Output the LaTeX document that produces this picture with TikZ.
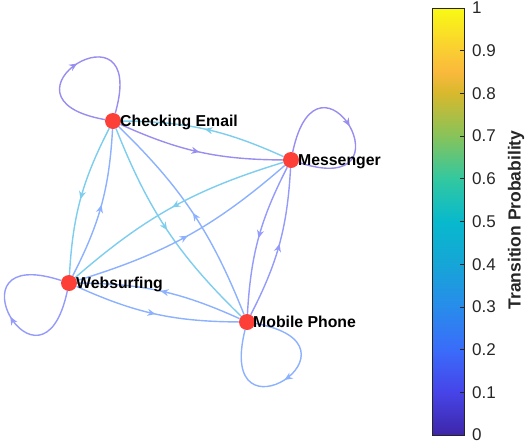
\documentclass[tikz,border=0pt]{standalone}
\usepackage{fontspec}
\setmainfont{Liberation Sans}
\usetikzlibrary{arrows.meta,decorations.markings}

\definecolor{purp}{RGB}{152,142,240}
\definecolor{pblu}{RGB}{148,155,250}
\definecolor{blu}{RGB}{140,177,255}
\definecolor{cya}{RGB}{125,205,238}
\definecolor{nodered}{RGB}{252,64,56}
\definecolor{axgray}{RGB}{38,38,38}
\definecolor{pa}{RGB}{62,38,168}
\definecolor{pb}{RGB}{70,68,232}
\definecolor{pc}{RGB}{58,108,250}
\definecolor{pd}{RGB}{40,140,235}
\definecolor{pe}{RGB}{22,165,215}
\definecolor{pf}{RGB}{8,185,205}
\definecolor{pg}{RGB}{50,200,160}
\definecolor{ph}{RGB}{135,195,90}
\definecolor{pi}{RGB}{215,185,45}
\definecolor{pj}{RGB}{250,185,60}
\definecolor{pk}{RGB}{250,205,50}
\definecolor{pl}{RGB}{249,250,20}
\pgfdeclareverticalshading{parula}{100bp}{color(0bp)=(pa); color(25bp)=(pa); color(30bp)=(pb); color(35bp)=(pc); color(40bp)=(pd); color(45bp)=(pe); color(50bp)=(pf); color(55bp)=(pg); color(60bp)=(ph); color(65bp)=(pi); color(67.5bp)=(pj); color(70bp)=(pk); color(75bp)=(pl); color(100bp)=(pl)}

\begin{document}
\begin{tikzpicture}[x=1pt,y=-1pt,
  state/.style={circle,fill=nodered,minimum size=16pt,inner sep=0pt},
  lab/.style={anchor=base west,inner sep=0pt,font=\fontsize{15.8}{18}\selectfont\bfseries},
  edge/.style={line width=1.4pt,postaction={decorate},
    decoration={markings,mark=at position 0.5 with {\arrow{Stealth[length=8pt,width=7pt]}}}},
  bendE/.style={edge,bend right=12},
  selfloop/.style={edge,distance=124pt},
  ticklab/.style={anchor=west,inner sep=0pt,text=axgray,font=\fontsize{17}{20}\selectfont},
]
\useasboundingbox (0,0) rectangle (527,445);

\node[state] (ce) at (113,121) {};
\node[state] (ms) at (291,160) {};
\node[state] (ws) at (69,283) {};
\node[state] (mp) at (247,322) {};

\draw[bendE,purp] (ce) to (ms);
\draw[bendE,cya] (ms) to (ce);
\draw[bendE,cya] (ce) to (ws);
\draw[bendE,blu] (ws) to (ce);
\draw[bendE,cya] (ce) to (mp);
\draw[bendE,blu] (mp) to (ce);
\draw[bendE,cya] (ms) to (ws);
\draw[bendE,blu] (ws) to (ms);
\draw[bendE,pblu] (ms) to (mp);
\draw[bendE,pblu] (mp) to (ms);
\draw[bendE,blu] (ws) to (mp);
\draw[bendE,blu] (mp) to (ws);

\draw[selfloop,purp] (ce) to[out=170,in=74] (ce);
\draw[selfloop,purp] (ms) to[out=78,in=342] (ms);
\draw[selfloop,pblu] (ws) to[out=258,in=162] (ws);
\draw[selfloop,blu] (mp) to[out=350,in=256] (mp);

\node[lab] (cel) at (120,126.7) {Checking Email};
\node[lab] (msl) at (298,165.7) {Messenger};
\node[lab] (wsl) at (76,288.7) {Websurfing};
\node[lab] (mpl) at (253,327.7) {Mobile Phone};

\shade[shading=parula] (432,8) rectangle (464,435);
\draw[axgray,line width=0.7pt] (432,8) rectangle (464,435);
\foreach \i in {1,...,9} {
  \draw[axgray,line width=0.7pt] (464,435-42.7*\i) -- ++(-4,0);
}
\node[ticklab] (t0) at (472,435) {0};
\foreach \i in {1,...,9} {
  \node[ticklab] (t\i) at (472,435-42.7*\i) {0.\i};
}
\node[ticklab] (t10) at (472,8) {1};
\node[rotate=90,inner sep=0pt,text=axgray,font=\fontsize{17.5}{20}\selectfont\bfseries] (cbl) at (516,220) {Transition Probability};
\end{tikzpicture}
\end{document}
